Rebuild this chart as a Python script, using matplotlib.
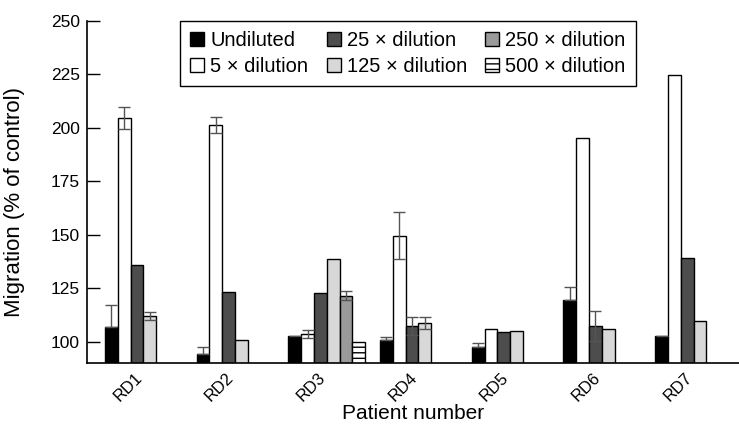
import numpy as np
import matplotlib.pyplot as plt

plt.rcParams['font.family'] = ['Liberation Sans', 'DejaVu Sans']

# Patients and dilution series (nan = not measured)
patients = ['RD1', 'RD2', 'RD3', 'RD4', 'RD5', 'RD6', 'RD7']
series = ['Undiluted', '5 \u00d7 dilution', '25 \u00d7 dilution',
          '125 \u00d7 dilution', '250 \u00d7 dilution', '500 \u00d7 dilution']

nan = np.nan
undiluted = [107.1, 94.2, 102.8, 100.8, 97.8, 119.6, 102.8]
dil_5 = [204.5, 201.3, 103.6, 149.5, 106.2, 195.0, 224.8]
dil_25 = [136.0, 123.2, 122.6, 107.5, 104.4, 107.6, 139.3]
dil_125 = [112.1, 100.9, 138.9, 108.7, 105.3, 106.1, 109.7]
dil_250 = [nan, nan, 121.6, nan, nan, nan, nan]
dil_500 = [nan, nan, 99.9, nan, nan, nan, nan]

# error bars (nan = none shown)
err_undiluted = [9.9, 3.6, nan, 1.7, 1.9, 6.1, nan]
err_5 = [5.0, 3.8, 2.0, 11.0, nan, nan, nan]
err_25 = [nan, nan, nan, 4.2, nan, 7.0, nan]
err_125 = [1.9, nan, nan, 2.7, nan, nan, nan]
err_250 = [nan, nan, 2.2, nan, nan, nan, nan]
err_500 = [nan, nan, nan, nan, nan, nan, nan]

values = [undiluted, dil_5, dil_25, dil_125, dil_250, dil_500]
errors = [err_undiluted, err_5, err_25, err_125, err_250, err_500]
colors = ['black', 'white', '#4d4d4d', '#d8d8d8', '#9a9a9a', 'white']
hatches = [None, None, None, None, None, '---']

fig = plt.figure(figsize=(7.39, 4.34), dpi=100)
ax = fig.add_axes([0.1177, 0.1629, 0.8823, 0.7894])

x = np.arange(len(patients))
w = 0.14
for j, (vals, errs) in enumerate(zip(values, errors)):
    left = x + (j - 2.5) * w
    ax.bar(left, vals, width=w, align='edge', color=colors[j], edgecolor='black',
           linewidth=1.0, hatch=hatches[j], label=series[j], zorder=2)
    errs = np.array(errs)
    lower = np.zeros_like(errs) if j == 0 else errs
    ax.errorbar(left + w / 2, vals, yerr=[lower, errs], fmt='none', ecolor='#555555',
                elinewidth=1.0, capsize=4, capthick=1.0, zorder=3)

ax.set_xlim(-0.545, 6.565)
ax.set_ylim(90, 250)
ax.set_yticks([100, 125, 150, 175, 200, 225, 250])
ax.set_xticks(x - 0.03)
ax.set_xticklabels(patients, rotation=45, ha='right', rotation_mode='anchor')
ax.tick_params(axis='y', direction='in', length=9.5, width=1, labelsize=12.5, pad=5)
ax.tick_params(axis='x', length=0, labelsize=12, pad=5)

ax.spines['top'].set_visible(False)
ax.spines['right'].set_visible(False)
ax.spines['left'].set_linewidth(1.2)
ax.spines['bottom'].set_linewidth(1.2)

ax.set_xlabel('Patient number', fontsize=15)
ax.xaxis.set_label_coords(0.5, -0.12)
ax.set_ylabel('Migration (% of control)', fontsize=16)
ax.yaxis.set_label_coords(-0.095, 0.47)

leg = ax.legend(ncol=3, loc='upper left', bbox_to_anchor=(0.143, 1.0), borderaxespad=0,
                fontsize=14.5, handlelength=0.7, handleheight=0.7, handletextpad=0.3,
                columnspacing=0.9, labelspacing=0.35, fancybox=False, framealpha=1,
                edgecolor='black', borderpad=0.5)
leg.get_frame().set_linewidth(1.0)

fig.savefig('out.png', dpi=100)
